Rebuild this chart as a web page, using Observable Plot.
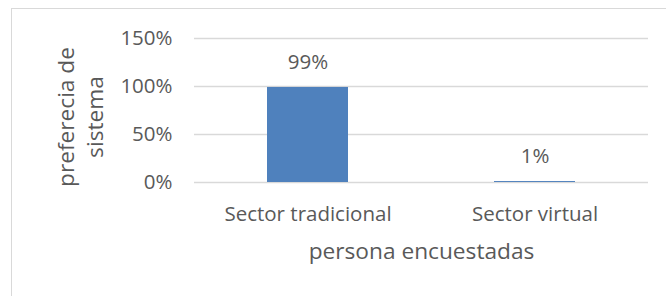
<!DOCTYPE html>
<html>
<head>
<meta charset="utf-8">
<script src="https://cdn.jsdelivr.net/npm/d3@7"></script>
<script src="https://cdn.jsdelivr.net/npm/@observablehq/plot@0.6"></script>
<style>
  html, body { margin: 0; padding: 0; background: #fff; overflow: hidden; }
  #wrap { position: relative; width: 666px; height: 296px; overflow: hidden; }
  #border { position: absolute; left: 11px; top: 8px; width: 720px; height: 400px; border: 1px solid #d9d9d9; box-sizing: border-box; pointer-events: none; }
  #chart { position: absolute; left: 0; top: 0; }
</style>
</head>
<body>
<div id="wrap"><div id="border"></div><div id="chart"></div></div>
<script>
const categories = ["Sector tradicional", "Sector virtual"];
const values = [0.99, 0.01];
const valueLabels = ["99%", "1%"];
const yTicks = [0, 0.5, 1, 1.5];
const yTitle = "preferecia de\nsistema";
const xTitle = "persona encuestadas";

const data = categories.map((c, i) => ({category: c, value: values[i], label: valueLabels[i]}));

const chart = Plot.plot({
  width: 666,
  height: 296,
  marginLeft: 194,
  marginRight: 18,
  marginTop: 38,
  marginBottom: 114,
  style: {fontFamily: "'Open Sans', sans-serif", fontSize: "20.5px", color: "#595959", background: "transparent", overflow: "visible"},
  x: {type: "band", domain: categories, paddingInner: 0.643, paddingOuter: 0.3215, axis: null},
  y: {domain: [0, 1.5], axis: null},
  marks: [
    Plot.gridY(yTicks, {stroke: "#d9d9d9", strokeOpacity: 1, strokeWidth: 1.3}),
    Plot.barY(data, {x: "category", y: "value", fill: "#4f81bd"}),
    Plot.axisY(yTicks, {tickSize: 0, tickPadding: 22, tickFormat: d => Math.round(d * 100) + "%", label: null, fill: "#595959"}),
    Plot.axisX(categories, {tickSize: 0, tickPadding: 24.4, label: null, fill: "#595959"}),
    Plot.text(data, {x: "category", y: "value", text: "label", lineAnchor: "bottom", dy: -18.6, fill: "#595959"}),
    Plot.text([yTitle], {text: d => d, frameAnchor: "left", rotate: -90, dx: -115.6, dy: 6.5, lineAnchor: "middle", textAnchor: "middle", lineHeight: 1.32, fontSize: 22.7, fill: "#595959"}),
    Plot.text([xTitle], {text: d => d, frameAnchor: "bottom", lineAnchor: "top", dy: 60, fontSize: 22.7, fill: "#595959"})
  ]
});
document.getElementById("chart").appendChild(chart);
</script>
</body>
</html>
